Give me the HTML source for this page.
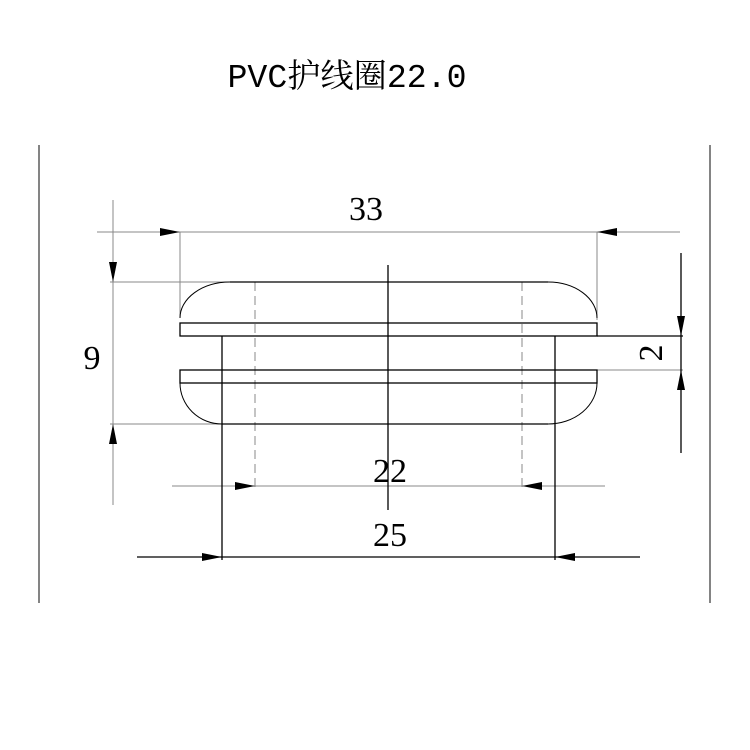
<!DOCTYPE html>
<html><head><meta charset="utf-8"><style>
html,body{margin:0;padding:0;background:#fff;}
svg{display:block}
</style></head><body>
<svg width="750" height="750" viewBox="0 0 750 750" xmlns="http://www.w3.org/2000/svg">
<rect width="750" height="750" fill="#fff"/>
<text x="347" y="87" text-anchor="middle" font-family="Liberation Mono, 'Noto Serif CJK SC', 'Noto Sans CJK SC', monospace" font-size="33" textLength="239" lengthAdjust="spacingAndGlyphs" fill="#000">PVC护线圈22.0</text>
<g stroke="#333" stroke-width="1.2" fill="none">
<line x1="39" y1="145" x2="39" y2="603"/>
<line x1="710" y1="145" x2="710" y2="603"/>
</g>
<g stroke="#888" stroke-width="1" fill="none">
<line x1="97" y1="232" x2="680" y2="232"/>
<line x1="180" y1="232" x2="180" y2="318"/>
<line x1="597" y1="232" x2="597" y2="320"/>
<line x1="110" y1="282" x2="230" y2="282"/>
<line x1="110" y1="424" x2="222" y2="424"/>
<line x1="113" y1="200" x2="113" y2="505"/>
<line x1="597" y1="370" x2="683" y2="370"/>
<line x1="172" y1="486" x2="605" y2="486"/>
<line x1="255" y1="282" x2="255" y2="490" stroke-dasharray="9,5"/>
<line x1="522" y1="282" x2="522" y2="490" stroke-dasharray="9,5"/>
</g>
<g stroke="#000" stroke-width="1.3" fill="none">
<line x1="597" y1="336" x2="683" y2="336"/>
<line x1="681" y1="253" x2="681" y2="453"/>
<line x1="137" y1="557" x2="640" y2="557"/>
<line x1="388" y1="265" x2="388" y2="510"/>
<line x1="230" y1="282" x2="548" y2="282"/>
<line x1="222" y1="424" x2="548" y2="424"/>
<rect x="180" y="323" width="417" height="13"/>
<rect x="180" y="370" width="417" height="13"/>
<line x1="222" y1="336" x2="222" y2="560"/>
<line x1="555" y1="336" x2="555" y2="560"/>
</g>
<g stroke="#000" stroke-width="1" fill="none">
<path d="M230 282 A50 36 0 0 0 180 318"/>
<path d="M548 282 A49 36 0 0 1 597 318"/>
<path d="M180 383 A42 41 0 0 0 222 424"/>
<path d="M597 383 A49 41 0 0 1 548 424"/>
</g>
<g fill="#000">
<polygon points="180,232 160,228 160,236"/>
<polygon points="597,232 617,228 617,236"/>
<polygon points="113,282 109,262 117,262"/>
<polygon points="113,424 109,444 117,444"/>
<polygon points="681,336 677,316 685,316"/>
<polygon points="681,370 677,390 685,390"/>
<polygon points="255,486 235,482 235,490"/>
<polygon points="522,486 542,482 542,490"/>
<polygon points="222,557 202,553 202,561"/>
<polygon points="555,557 575,553 575,561"/>
</g>
<g font-family="Liberation Serif, serif" font-size="34" fill="#000" text-anchor="middle">
<text x="366" y="220">33</text>
<text x="92" y="369">9</text>
<text x="390" y="482">22</text>
<text x="390" y="546">25</text>
<text transform="translate(662,353) rotate(-90)" x="0" y="0">2</text>
</g>
</svg>
</body></html>
